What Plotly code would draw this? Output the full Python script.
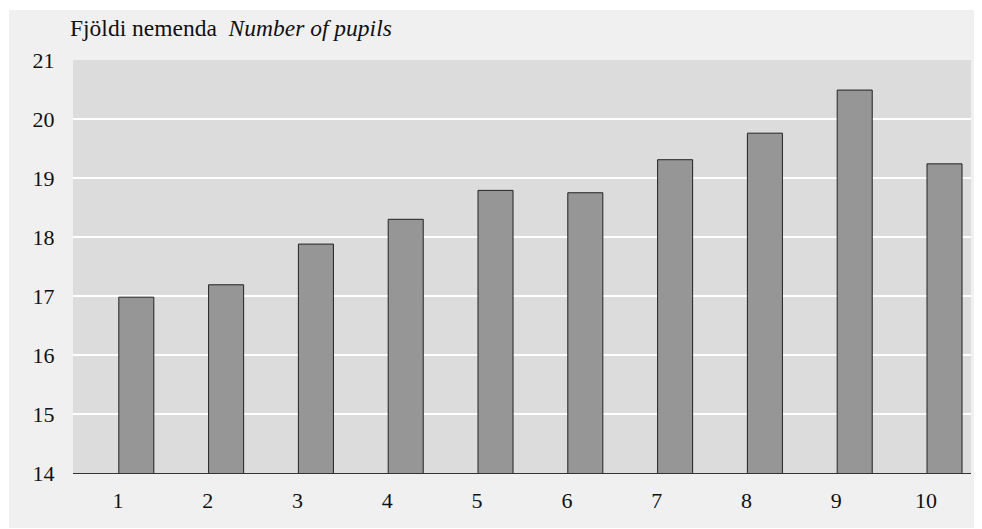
import plotly.graph_objects as go

categories = ["1", "2", "3", "4", "5", "6", "7", "8", "9", "10"]
pupils = [16.98, 17.19, 17.88, 18.30, 18.79, 18.75, 19.31, 19.76, 20.49, 19.24]
y_ticks = [14, 15, 16, 17, 18, 19, 20, 21]

OFF = 8  # page body margin
W, H = 982 - OFF, 529 - OFF
# target pixel positions in the window
L, R, T, B = 73, 971, 60, 473
ml, mt = L - OFF, T - OFF
mr = W - (R - OFF)
mb = H - (B - OFF)
pw = W - ml - mr
ph = H - mt - mb

def px_x(x):
    return (x - L) / pw

def px_y(y):
    return (B - y) / ph

fig = go.Figure(go.Bar(
    x=categories, y=pupils,
    width=0.39, offset=0.01,
    marker=dict(color="#969696", line=dict(color="#222222", width=1)),
    hoverinfo="x+y",
))

font = dict(family="Liberation Serif, Times New Roman, serif", size=22, color="#111111")
tfont = dict(family="Liberation Serif, Times New Roman, serif", size=23.5, color="#111111")

fig.update_layout(
    width=W, height=H,
    margin=dict(l=ml, r=mr, t=mt, b=mb, pad=0),
    paper_bgcolor="white",
    plot_bgcolor="#dcdcdc",
    showlegend=False,
    font=font,
    xaxis=dict(type="category", showgrid=False, showline=True, linecolor="#333333",
               linewidth=1, ticks="outside", ticklen=8, tickcolor="rgba(0,0,0,0)",
               tickfont=font, range=[-0.5, 9.5]),
    yaxis=dict(range=[14, 21], tickvals=y_ticks, showgrid=True, gridcolor="white",
               gridwidth=2, zeroline=False, showline=False, ticks="outside",
               ticklen=13, tickcolor="rgba(0,0,0,0)", tickfont=font),
    shapes=[
        dict(type="rect", xref="paper", yref="paper", layer="below",
             x0=px_x(9), x1=px_x(977), y0=px_y(528), y1=px_y(10),
             fillcolor="#f0f0f0", line=dict(width=0)),
        dict(type="rect", xref="paper", yref="paper", layer="below",
             x0=0, x1=1, y0=0, y1=1,
             fillcolor="#dcdcdc", line=dict(width=0)),
    ],
    annotations=[dict(xref="paper", yref="paper", x=px_x(68), y=px_y(28),
                      xanchor="left", yanchor="middle", showarrow=False,
                      text="Fjöldi nemenda  <i>Number of pupils</i>", font=tfont)],
)

fig.write_html("out.html")
